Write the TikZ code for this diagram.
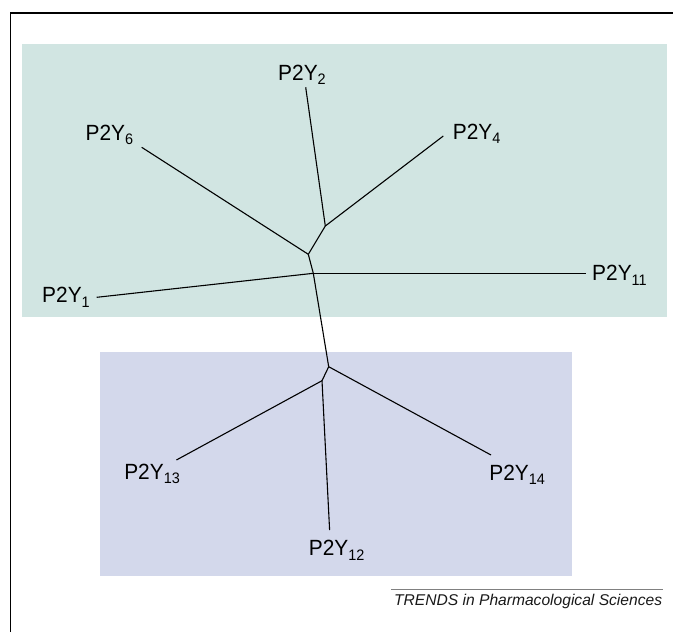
\documentclass[tikz,border=0pt]{standalone}
\usepackage{fontspec}
\setmainfont{Liberation Sans}
\newfontfamily\RecFont[FakeStretch=0.95]{Liberation Sans}
\usepackage{tikz}

\definecolor{upperbox}{RGB}{209,229,226}
\definecolor{lowerbox}{RGB}{211,216,235}
\newcommand{\RecSub}[1]{\raisebox{-2.3pt}{\fontsize{7.6}{9}\selectfont #1}}
\newcommand{\Rec}[1]{P2Y\RecSub{#1}}

\begin{document}
\begin{tikzpicture}[x=0.5pt,y=-0.5pt,
  branch/.style={line width=0.55pt,line join=round},
  recname/.style={anchor=base west,inner sep=0pt,font=\RecFont\fontsize{11}{13}\selectfont}]
\useasboundingbox (0,0) rectangle (673,632);
\fill[upperbox] (22,44) rectangle (667,317);
\fill[lowerbox] (100,352) rectangle (572,576);
\draw[line width=0.6pt] (10.5,632) -- (10.5,13) -- (673,13);
%forks
\coordinate (Fork1) at (325.3,226);
\coordinate (Fork2) at (308.3,254.3);
\coordinate (Fork3) at (313.3,273.3);
\coordinate (Fork4) at (328.7,366.7);
\coordinate (Fork5) at (322,380.7);
%tips
\coordinate (Tip2) at (305.7,87.3);
\coordinate (Tip4) at (443.3,136);
\coordinate (Tip6) at (141.7,147.3);
\coordinate (Tip1) at (96.7,297.3);
\coordinate (Tip11) at (585.7,273.3);
\coordinate (Tip13) at (176.4,460);
\coordinate (Tip12) at (329.6,530);
\coordinate (Tip14) at (491,455);
\draw[branch] (Fork1) -- (Tip2);
\draw[branch] (Fork1) -- (Tip4);
\draw[branch] (Fork1) -- (Fork2);
\draw[branch] (Fork2) -- (Tip6);
\draw[branch] (Fork2) -- (Fork3);
\draw[branch] (Fork3) -- (Tip1);
\draw[branch] (Fork3) -- (Tip11);
\draw[branch] (Fork3) -- (Fork4);
\draw[branch] (Fork4) -- (Tip14);
\draw[branch] (Fork4) -- (Fork5);
\draw[branch] (Fork5) -- (Tip13);
\draw[branch] (Fork5) -- (Tip12);
%labels
\node[recname] (Lab2) at (277.8,80) {\Rec{2}};
\node[recname] (Lab6) at (85.2,140) {\Rec{6}};
\node[recname] (Lab4) at (452.5,139.3) {\Rec{4}};
\node[recname] (Lab1) at (41.8,302.7) {\Rec{1}};
\node[recname] (Lab11) at (591.8,280.7) {\Rec{11}};
\node[recname] (Lab13) at (123.9,479) {\Rec{13}};
\node[recname] (Lab12) at (308.5,555.7) {\Rec{12}};
\node[recname] (Lab14) at (488.9,480) {\Rec{14}};
\draw[gray,line width=0.65pt] (391,589.3) -- (663,589.3);
\node[anchor=base east,inner sep=0pt,text=black!90,font=\fontsize{7.8}{9}\selectfont\itshape] (Credit) at (662.5,605) {TRENDS in Pharmacological Sciences};
\end{tikzpicture}
\end{document}
